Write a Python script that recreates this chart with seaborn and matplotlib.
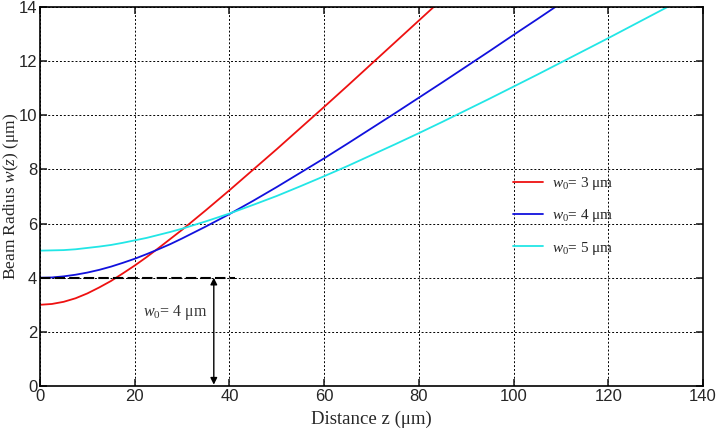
import numpy as np
import pandas as pd
import matplotlib
matplotlib.use("Agg")
import matplotlib.pyplot as plt
import seaborn as sns

# Data
z_pos = [0, 2.5, 5, 7.5, 10, 12.5, 15, 17.5, 20, 22.5, 25, 27.5, 30, 35, 40, 45,
         50, 55, 60, 65, 70, 75, 80, 85, 90, 95, 100, 105, 110, 115, 120, 125,
         130, 135]
w_3um = [3.00, 3.03, 3.11, 3.24, 3.42, 3.64, 3.88, 4.16, 4.45, 4.76, 5.09, 5.43,
         5.77, 6.49, 7.23, 7.99, 8.75, 9.53, 10.31, 11.10, 11.90, 12.70, 13.50,
         14.30]
w_4um = [4.00, 4.01, 4.05, 4.11, 4.19, 4.29, 4.41, 4.55, 4.70, 4.87, 5.05, 5.24,
         5.45, 5.89, 6.35, 6.84, 7.35, 7.88, 8.41, 8.96, 9.52, 10.08, 10.65,
         11.22, 11.80, 12.38, 12.97, 13.55, 14.14]
w_5um = [5.00, 5.01, 5.02, 5.05, 5.10, 5.15, 5.21, 5.29, 5.38, 5.47, 5.58, 5.69,
         5.81, 6.08, 6.37, 6.69, 7.02, 7.38, 7.75, 8.13, 8.53, 8.93, 9.34, 9.76,
         10.19, 10.62, 11.06, 11.50, 11.95, 12.40, 12.85, 13.31, 13.77, 14.23]
series_labels = [r"$\mathit{w_0}$= 3 μm", r"$\mathit{w_0}$= 4 μm", r"$\mathit{w_0}$= 5 μm"]
series_colors = ["#ee1111", "#1111dd", "#22e6e6"]
x_ticks = [0, 20, 40, 60, 80, 100, 120, 140]
y_ticks = [0, 2, 4, 6, 8, 10, 12, 14]
marked_waist = 4.0
arrow_z = 36.7
dash_end = 41.2

rows = []
for lab, vals in zip(series_labels, [w_3um, w_4um, w_5um]):
    for z, w in zip(z_pos[:len(vals)], vals):
        rows.append({"z": z, "w": w, "series": lab})
df = pd.DataFrame(rows)

sns.set_style("ticks")
plt.rcParams["font.family"] = ["Liberation Sans", "DejaVu Sans"]
plt.rcParams["mathtext.fontset"] = "custom"
plt.rcParams["mathtext.rm"] = "Liberation Serif"
plt.rcParams["mathtext.it"] = "Liberation Serif:italic"

fig, ax = plt.subplots(figsize=(7.18, 4.34), dpi=100)
fig.subplots_adjust(left=40/718, right=703/718, top=1-7/434, bottom=1-386/434)

sns.lineplot(data=df, x="z", y="w", hue="series", palette=series_colors,
             hue_order=series_labels, ax=ax, linewidth=1.3, legend=True)

ax.set_xlim(0, 140)
ax.set_ylim(0, 14)
ax.set_xticks(x_ticks)
ax.set_yticks(y_ticks)
ax.tick_params(direction="in", top=True, right=True, length=5, width=1.2,
               labelsize=12, pad=2)
for sp in ax.spines.values():
    sp.set_linewidth(1.2)
    sp.set_color("black")
ax.grid(True, color="black", linestyle=(0, (2, 2)), linewidth=0.7)

serif = ["Liberation Serif", "DejaVu Serif"]
ax.set_xlabel("Distance z (μm)", family=serif, fontsize=13.5, labelpad=5)
ax.set_ylabel(r"Beam Radius $\mathit{w(z)}$ (μm)", family=serif, fontsize=12.5)
ax.yaxis.set_label_coords(-0.029, 0.5)

# annotation: waist marker
ax.plot([0, dash_end], [marked_waist, marked_waist], color="black",
        linestyle=(0, (5, 2)), linewidth=1.5, zorder=3)
ax.annotate("", xy=(arrow_z, 0.05), xytext=(arrow_z, marked_waist),
            arrowprops=dict(arrowstyle="<|-|>", color="black", lw=1.0,
                            mutation_scale=10, shrinkA=0, shrinkB=0))
ax.text(28.6, 2.72, r"$\mathit{w_0}$= 4 μm", family=serif, fontsize=11.5,
        ha="center", va="center", color="#333333")

leg = ax.legend(loc="upper left", bbox_to_anchor=(0.692, 0.593), frameon=False,
                prop={"family": serif, "size": 11}, handlelength=2.0,
                labelspacing=1.0, handletextpad=0.6)
leg.set_title(None)

fig.savefig("out.png", dpi=100)
